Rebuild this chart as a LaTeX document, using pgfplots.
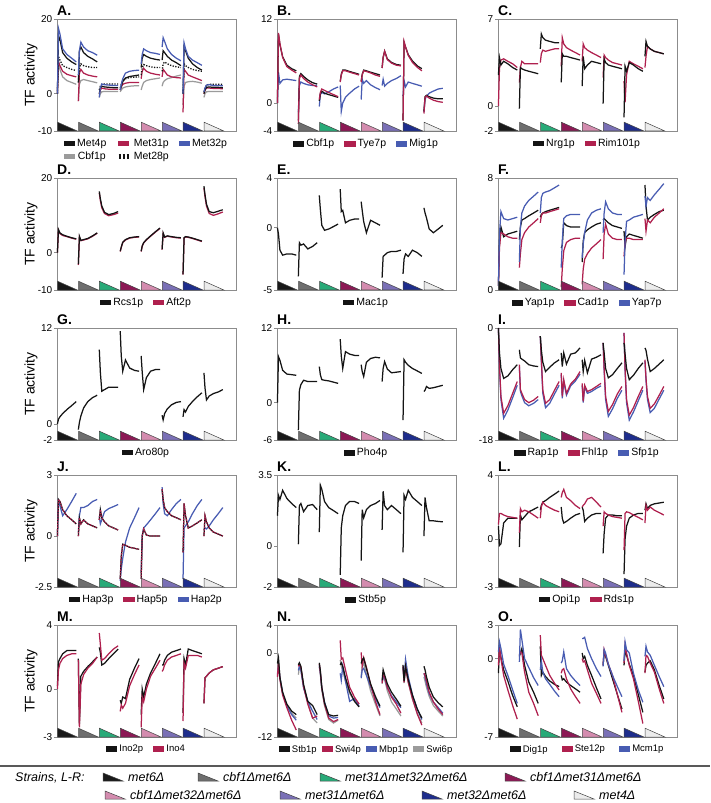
\documentclass[border=0pt]{standalone}
\usepackage{fontspec}
\setmainfont{Liberation Sans}
\usepackage{pgfplots}
\pgfplotsset{compat=1.18}

\definecolor{cblk}{RGB}{20,20,20}
\definecolor{cred}{RGB}{175,32,78}
\definecolor{cblu}{RGB}{72,92,178}
\definecolor{cgry}{RGB}{155,155,155}
\definecolor{axgray}{RGB}{140,140,140}
\definecolor{triedge}{RGB}{70,70,70}
\definecolor{t1}{RGB}{25,25,25}
\definecolor{t2}{RGB}{110,110,110}
\definecolor{t3}{RGB}{40,170,120}
\definecolor{t4}{RGB}{140,25,85}
\definecolor{t5}{RGB}{212,140,175}
\definecolor{t6}{RGB}{122,112,182}
\definecolor{t7}{RGB}{30,45,140}
\definecolor{t8}{RGB}{236,236,236}

\tikzset{
 lblk/.style={color=cblk, line width=1.25pt},
 lred/.style={color=cred, line width=1.25pt},
 lredd/.style={color=cred, line width=1.25pt, dash pattern=on 1.5pt off 1.2pt},
 lblu/.style={color=cblu, line width=1.25pt},
 lgry/.style={color=cgry, line width=1.25pt},
 ldot/.style={color=cblk, line width=1.3pt, dash pattern=on 1.3pt off 1.4pt},
}

\def\tval#1{\ifcase#1 0\or0.05\or0.12\or0.25\or0.45\or0.68\or0.9\fi}

\newcommand\addseries[2]{%
  \foreach \vals [count=\i from 0] in {#2} {%
    \gdef\coords{}%
    \foreach \v [count=\j from 0] in \vals {%
      \edef\tv{\tval{\j}}%
      \pgfmathsetmacro\xx{\i+0.02+\tv}%
      \xdef\coords{\coords(\xx,\v)}%
    }%
    \edef\temp{\noexpand\addplot[#1,forget plot] coordinates {\coords};}%
    \temp
  }%
}

\newcommand\strips{%
  \foreach \c [count=\i from 0] in {t1,t2,t3,t4,t5,t6,t7,t8} {%
    \pgfmathsetmacro\xa{(\i+0.03)/8.55}%
    \pgfmathsetmacro\xb{(\i+0.97)/8.55}%
    \edef\temp{\noexpand\filldraw[fill=\c, draw=triedge, line width=0.5pt] (axis description cs:\xa,0) -- (axis description cs:\xa,0.078) -- (axis description cs:\xb,0) -- cycle;}%
    \temp
  }%
}

\newcommand\plabel[1]{\node[anchor=south west, inner sep=0pt, yshift=3pt, font=\bfseries\fontsize{14}{14}\selectfont] at (rel axis cs:0,1) {#1};}

\pgfplotsset{
 panel/.style={
  scale only axis, width=179pt, height=112pt,
  xmin=0, xmax=8.55, xtick=\empty,
  axis line style={draw=axgray, line width=0.8pt},
  ytick pos=left, tick align=outside,
  major tick length=3pt,
  every tick/.style={draw=axgray, line width=0.7pt},
  yticklabel style={font=\fontsize{10}{10}\selectfont, inner sep=1.5pt},
  every axis y label/.style={at={(axis description cs:-0.145,0.5)}, rotate=90, anchor=center, font=\fontsize{14}{14}\selectfont},
  legend image code/.code={\fill[##1] (0pt,-2.2pt) rectangle (10pt,2.2pt);},
  legend style={draw=none, fill=none, at={(0.5,-0.035)}, anchor=north,
    font=\fontsize{10.5}{12}\selectfont,
    /tikz/every even column/.append style={column sep=8pt}},
  legend columns=-1,
  clip=false,
  anchor=north west,
 },
 small legend/.style={legend style={font=\fontsize{9.5}{11}\selectfont}},
}

\begin{document}
\begin{tikzpicture}
\useasboundingbox (0pt,0pt) rectangle (710pt,-803pt);

% ---------------- A
\begin{axis}[panel, at={(57pt,-19pt)}, ymin=-10, ymax=20, ytick={-10,0,20}, yticklabels={-10,0,20}, ylabel={TF activity}, legend columns=3]
\addlegendimage{lblk}\addlegendentry{Met4p}
\addlegendimage{lred}\addlegendentry{Met31p}
\addlegendimage{lblu}\addlegendentry{Met32p}
\addlegendimage{lgry}\addlegendentry{Cbf1p}
\addlegendimage{legend image code/.code={\draw[cblk, line width=4.4pt, dash pattern=on 2.6pt off 1.4pt] (0pt,0pt) -- (11pt,0pt);}}\addlegendentry{Met28p}
\addseries{lgry}{{0,9,6.5,4.5,3.5,3,2.5},{-2,2.5,3.5,3.8,3.5,3.2,2.9},{-1,0,0.5,0.6,0.6,0.6,0.6},{0.5,1,1.5,1.8,2,2.1,2.1},{1,2,3,3.5,3.8,4,4.2},{2,3,3.5,4,4.3,4.7,5},{-3,2,3,3.2,3.3,3.1,2.8},{-1,0,0.5,0.6,0.6,0.6,0.6}}
\addseries{lred}{{0,8.5,7.5,6,5.2,4.8,4.5},{-2,5.5,6.5,5.5,5,4.7,4.5},{0,1,1.5,1.3,1.2,1.2,1.2},{1,1.8,2.5,2.8,3,3,3},{4,6,6.8,6,5.5,5.2,5},{4.5,6.5,6,5,4.5,4.3,4.2},{-5,6.5,6,5,4.5,4,3.5},{0,1,1.5,1.5,1.4,1.4,1.3}}
\addseries{ldot}{{0,10,9,7.5,7,6.5,6.2},{3,7,8,7.5,7.2,7,7},{1,2,2.5,2.6,2.6,2.6,2.6},{1.5,2.5,3.5,4,4.3,4.4,4.5},{5,7,7.8,7.5,7.2,7,7},{6,8,8.5,8,7.5,7.2,7},{0,8,7.5,7,6.5,6.2,6},{0.5,1.5,2.3,2.5,2.5,2.5,2.5}}
\addseries{lblk}{{0,15.5,14.5,11,9.5,8.5,7.8},{3,11.5,12.5,11,10,9.3,8.5},{0,1.5,2,1.8,1.7,1.6,1.6},{1,2,3.2,4.2,4.6,4.8,5},{7,9.5,10.5,10,9.5,9.2,9},{9,11.5,11,10,9,8.3,7.5},{0,12.5,11.5,9.5,8,7,6.3},{0,1,1.7,1.8,1.7,1.7,1.6}}
\addseries{lblu}{{0,17.5,16,12,10.5,9.5,8.5},{5,11.5,13.8,12.5,11.5,11,10.3},{-1,1.5,2.6,2.4,2.3,2.2,2.2},{1,2.5,4,5.5,6,6.2,6.3},{8,10.5,12,11.5,11,10.8,10.5},{12.5,15,14,12,10.5,9.5,8.8},{0,13.6,12,10,9,8.3,7.6},{0.5,1.5,2.3,2.4,2.2,2.2,2.1}}
\strips
\plabel{A.}
\end{axis}

% ---------------- B
\begin{axis}[panel, at={(277pt,-19pt)}, ymin=-4, ymax=12, ytick={-4,0,12}, yticklabels={-4,0,12}]
\addlegendimage{lblk}\addlegendentry{Cbf1p}
\addlegendimage{lred}\addlegendentry{Tye7p}
\addlegendimage{lblu}\addlegendentry{Mig1p}
\addseries{lblu}{{0,4.4,2.8,3.3,3.4,3.3,3.2},{-1.3,2.5,3,2.8,2.6,2.5,2.5},{-0.5,1.2,1.5,1.3,1.6,2,2.3},{2.5,-1.2,0,0.8,1.4,2,2.4},{0.5,3.4,2.8,3.2,2.6,2.2,1.9},{2.5,3.4,2.4,2.8,3.2,3.5,3.9},{1,3.2,2.3,3,2.8,2.6,2.4},{-1.3,0.5,1,1.4,1.7,2,2.1}}
\addseries{lblk}{{0,9.8,8.3,6.6,5.4,4.9,4.6},{-2.5,3.8,4.2,3.8,3.3,2.9,2.7},{0.3,1.3,1.7,1.4,1.2,1.0,0.8},{3.1,4.1,4.7,4.7,4.5,4.3,4.1},{3.1,4.1,4.7,4.6,4.4,4.2,4.0},{5,6.5,7.4,6.3,5.8,5.5,5.4},{-2.5,8.6,8,6.9,6,5.3,4.9},{-1.2,0.9,1.1,0.9,0.7,0.6,0.6}}
\addseries{lred}{{0,10,8.5,6.5,5.2,4.7,4.3},{-3,3.5,4,3.5,3,2.6,2.3},{0.5,1.5,2,1.8,1.5,1.2,0.9},{3,4,4.6,4.6,4.4,4.2,4.0},{3,4,4.6,4.5,4.3,4,3.8},{5,6.5,7.4,6.2,5.7,5.4,5.3},{-2.5,8.8,8,6.8,5.8,5.1,4.6},{-1.5,0.8,1,0.7,0.4,0.2,0.1}}
\strips
\plabel{B.}
\end{axis}

% ---------------- C
\begin{axis}[panel, at={(498pt,-19pt)}, ymin=-2, ymax=7, ytick={-2,0,7}, yticklabels={-2,0,7}]
\addlegendimage{lblk}\addlegendentry{Nrg1p}
\addlegendimage{lred}\addlegendentry{Rim101p}
\addseries{lred}{{0,3,3.7,3.8,3.6,3.4,3.1},{1.9,3.1,3.6,3.4,3.4,3.4,3.4},{3.5,4.2,4.5,4.4,4.5,4.6,4.6},{3.2,5.5,5.0,4.7,4.5,4.3,4.1},{3.6,5,4.7,4.5,4.3,4.1,3.9},{2.3,4.1,3.9,3.7,3.5,3.4,3.3},{2.0,0.3,2.5,3.6,3.4,3.2,3.0},{3.1,4.0,4.8,4.6,4.4,4.3,4.2}}
\addseries{lblk}{{2.5,3.9,3.3,3.6,3.4,3.1,2.9},{-0.2,3.1,3,2.9,2.8,2.7,2.6},{4.6,5.8,5.5,5.3,5.2,5.1,5.1},{1.9,4.2,4.0,4.0,3.9,3.8,3.7},{1.6,4.0,3.0,3.3,3.6,3.5,3.4},{0.2,3.8,3.5,3.3,3.2,3.1,3.0},{-0.9,3.2,2.8,3.5,3.3,3.0,2.8},{4,5.2,4.8,4.6,4.4,4.3,4.2}}
\strips
\plabel{C.}
\end{axis}

% ---------------- D
\begin{axis}[panel, at={(57pt,-178pt)}, ymin=-10, ymax=20, ytick={-10,0,20}, yticklabels={-10,0,20}, ylabel={TF activity}]
\addlegendimage{lblk}\addlegendentry{Rcs1p}
\addlegendimage{lred}\addlegendentry{Aft2p}
\addseries{lred}{{0,6.0,5.1,4.6,4.3,3.9,3.6},{-3.3,4.2,3.2,3.4,3.7,4.4,5.2},{16.0,14.0,12.0,10.5,9.9,10.2,10.6},{0.3,1.4,2.7,3.4,3.9,4.1,4.2},{0.3,1.7,2.6,3.4,4.4,5.5,6.5},{0.8,5.1,4.1,4.4,4.2,4.0,3.9},{-5.9,3.9,4.2,4.1,3.8,3.4,3.0},{17.3,15.0,12.5,10.5,10.0,10.4,10.9}}
\addseries{lblk}{{0,6.2,5.3,4.8,4.4,4.0,3.7},{-3.1,4.4,3.3,3.5,3.8,4.5,5.3},{16.4,14.5,12.5,10.8,10.2,10.5,11.0},{0.4,1.5,2.8,3.5,4.0,4.2,4.3},{0.4,1.8,2.7,3.5,4.5,5.6,6.6},{0.9,5.3,4.2,4.5,4.3,4.1,4.0},{-5.8,4.0,4.3,4.2,3.9,3.5,3.1},{17.8,15.5,13,11,10.7,11.1,11.5}}
\strips
\plabel{D.}
\end{axis}

% ---------------- E
\begin{axis}[panel, at={(277pt,-178pt)}, ymin=-5, ymax=4, ytick={-5,0,4}, yticklabels={-5,0,4}]
\addlegendimage{lblk}\addlegendentry{Mac1p}
\addseries{lblk}{{0,-0.5,-1.8,-2.2,-2.1,-2.1,-2.2},{-3.9,-1.2,-1.4,-1.3,-1.7,-1.5,-1.2},{2.6,1.5,0.2,-0.2,-0.1,0.1,0.3},{3.1,1.3,1.4,0.4,0.6,0.7,0.7},{2.1,1.4,0.5,-0.4,0.6,0.4,0.2},{-4.0,-2.3,-2.2,-2.0,-1.9,-1.9,-1.8},{-3.7,-2.5,-2.1,-2.3,-1.8,-2.0,-2.3},{1.6,1.2,0.8,-0.1,-0.4,-0.1,0.2}}
\strips
\plabel{E.}
\end{axis}

% ---------------- F
\begin{axis}[panel, at={(498pt,-178pt)}, ymin=0, ymax=8, ytick={0,8}, yticklabels={0,8}]
\addlegendimage{lblk}\addlegendentry{Yap1p}
\addlegendimage{lred}\addlegendentry{Cad1p}
\addlegendimage{lblu}\addlegendentry{Yap7p}
\addseries{lblk}{{0.3,3.5,4.5,3.8,4.0,4.1,4.2},{3.6,4.5,5.0,5.1,5.3,5.5,5.7},{5.2,5.4,5.5,5.6,5.7,5.8,5.9},{3.0,3.2,4.8,4.6,4.5,4.5,4.5},{2.0,3.5,4.1,4.3,4.5,4.7,4.8},{5.0,5.1,5.0,4.8,4.6,4.5,4.4},{4.2,3.1,3.8,4.0,3.9,3.8,3.7},{7.5,6.0,5.0,5.2,5.4,5.6,5.7}}
\addseries{lred}{{0.3,3.0,4.1,4.0,3.8,3.7,3.7},{1.6,2.6,3.6,4.1,4.5,4.8,5.1},{4.8,5.3,5.5,5.5,5.6,5.7,5.8},{0.2,1.5,2.8,3.4,3.6,3.7,3.7},{0.4,1.5,2.2,2.6,3.0,3.3,3.6},{2.2,4.0,4.7,4.0,3.7,3.6,3.6},{2.4,3.4,3.7,3.7,3.6,3.6,3.6},{5.1,4.2,5.0,4.8,5.2,5.5,5.8}}
\addseries{lblu}{{0.3,4.0,5.6,5.1,5.0,5.1,5.2},{2.0,4.5,5.5,6.0,6.4,6.7,7.0},{5.5,6.6,6.9,7.0,7.1,7.3,7.5},{1.6,3.5,5.1,5.3,5.4,5.4,5.4},{2.3,3.3,4.1,5.0,5.5,5.7,5.8},{4.1,5.5,6.3,5.8,5.5,5.4,5.4},{1.1,3.5,4.9,5.0,5.2,5.3,5.4},{6.7,6.0,6.6,6.4,6.8,7.2,7.6}}
\strips
\plabel{F.}
\end{axis}

% ---------------- G
\begin{axis}[panel, at={(57pt,-328pt)}, ymin=-2, ymax=12, ytick={-2,0,12}, yticklabels={-2,0,12}, ylabel={TF activity}]
\addlegendimage{lblk}\addlegendentry{Aro80p}
\addseries{lblk}{{0,0.6,0.9,1.3,1.8,2.3,2.8},{-0.7,0.2,1.0,2.0,2.8,3.3,3.6},{9.3,6.5,4.1,4.3,4.6,4.6,4.6},{11.6,8.5,6.6,8.0,7.0,6.7,6.6},{8.5,6.5,4.3,5.8,6.6,6.8,6.8},{1.1,0.5,1.3,1.9,2.4,2.7,2.8},{0.9,1.8,1.5,2.2,2.8,3.4,3.9},{6.4,4.5,3.0,3.5,3.8,4.0,4.3}}
\strips
\plabel{G.}
\end{axis}

% ---------------- H
\begin{axis}[panel, at={(277pt,-328pt)}, ymin=-6, ymax=12, ytick={-6,0,12}, yticklabels={-6,0,12}]
\addlegendimage{lblk}\addlegendentry{Pho4p}
\addseries{lblk}{{0,7.4,6.8,5.2,4.6,4.5,4.4},{-4.4,2.0,2.9,3.6,3.4,3.4,3.4},{5.8,4.5,3.7,3.6,3.5,3.3,3.1},{10.2,7.5,5.5,8.2,7.8,7.6,7.6},{6.1,5.0,4.2,6.5,7.1,7.3,7.2},{3.4,5.5,6.6,5.4,4.8,4.9,5.0},{-2.8,6.9,6.5,6.0,5.5,5.1,4.7},{1.8,2.0,2.6,2.3,2.4,2.6,2.8}}
\strips
\plabel{H.}
\end{axis}

% ---------------- I
\begin{axis}[panel, at={(498pt,-328pt)}, ymin=-18, ymax=0, ytick={-18,0}, yticklabels={-18,0}]
\addlegendimage{lblk}\addlegendentry{Rap1p}
\addlegendimage{lred}\addlegendentry{Fhl1p}
\addlegendimage{lblu}\addlegendentry{Sfp1p}
\addseries{lblu}{{0,-6.3,-11.5,-14.5,-13.2,-11.2,-9.2},{-6.2,-10.2,-10.9,-12.0,-12.5,-12.1,-11.5},{-1.3,-5.3,-10.5,-12.8,-12.1,-10.6,-9.2},{-7.5,-11.3,-8.6,-10.8,-9.3,-8.5,-7.4},{-9.2,-12.0,-9.5,-10.5,-10.2,-9.7,-9.3},{-2.4,-6.8,-11.5,-14.2,-13.0,-11.3,-10.0},{-0.8,-6.8,-12.0,-14.8,-13.5,-11.7,-10.0},{-5.3,-8.4,-11.5,-13.6,-12.9,-11.4,-10.0}}
\addseries{lred}{{0,-6,-11,-13.7,-12.5,-10.5,-8.6},{-5.9,-9.9,-10.5,-11.5,-12.0,-11.6,-11.0},{-1.3,-5,-10,-12.1,-11.5,-10,-8.6},{-7.2,-11.0,-8.3,-10.5,-9.0,-8.2,-7.0},{-8.9,-11.8,-9.2,-10.2,-9.9,-9.4,-8.9},{-2.4,-6.5,-11,-13.4,-12.3,-10.6,-9.4},{-0.8,-6.5,-11.5,-14.0,-12.8,-11,-9.4},{-5.1,-8.1,-11,-12.9,-12.2,-10.8,-9.4}}
\addseries{lblk}{{0,-4.0,-6.5,-8.1,-7.7,-6.7,-5.9},{-3.5,-4.8,-5.0,-5.3,-5.9,-6.1,-6.2},{-1.3,-3.5,-5.5,-7.0,-6.3,-5.6,-5.1},{-4.0,-6.2,-4.0,-5.8,-4.2,-4.0,-3.2},{-5.1,-7.0,-5.2,-7.2,-5.0,-4.7,-4.3},{-2.4,-4.0,-6.5,-8.0,-7.5,-6.5,-5.6},{-2.4,-4.2,-6.5,-8.3,-7.6,-6.5,-5.6},{-3.2,-3.6,-5.0,-7.0,-6.5,-5.8,-5.1}}
\strips
\plabel{I.}
\end{axis}

% ---------------- J
\begin{axis}[panel, at={(57pt,-475pt)}, ymin=-2.5, ymax=3, ytick={-2.5,0,3}, yticklabels={-2.5,0,3}, ylabel={TF activity}]
\addlegendimage{lblk}\addlegendentry{Hap3p}
\addlegendimage{lred}\addlegendentry{Hap5p}
\addlegendimage{lblu}\addlegendentry{Hap2p}
\addseries{lblu}{{0,1.7,1.5,1.0,1.3,1.7,2.1},{0.2,1.0,1.4,1.4,1.5,1.7,1.8},{1.0,0.6,0.8,1.2,1.35,1.45,1.55},{-2.2,-1.6,-1.1,-0.3,0.4,0.9,1.4},{-1.8,0.0,0.4,0.55,0.8,1.1,1.4},{2.4,1.6,1.1,1.0,1.3,1.6,1.8},{-2.1,0.4,0.5,0.7,1.1,1.5,1.8},{0.3,0.4,0.35,0.5,0.8,1.1,1.4}}
\addseries{lblk}{{0,1.8,1.7,1.3,1.0,0.8,0.6},{0,0.9,0.6,0.8,0.6,0.5,0.4},{0.8,1.3,0.9,0.7,0.5,0.4,0.3},{-2.1,-1.0,-0.4,-0.45,-0.55,-0.6,-0.65},{-2.1,0.0,0.35,0.05,0.0,0.0,0.0},{2.3,1.8,1.4,1.2,1.0,0.9,0.8},{-0.8,1.6,1.0,0.4,0.5,0.65,0.8},{0,1.0,0.7,0.4,0.2,0.1,0.0}}
\addseries{lredd}{{0,1.8,1.7,1.3,1.0,0.8,0.6},{0,0.9,0.6,0.8,0.6,0.5,0.4},{0.8,1.3,0.9,0.7,0.5,0.4,0.3},{-2.1,-1.0,-0.4,-0.45,-0.55,-0.6,-0.65},{-2.1,0.0,0.35,0.05,0.0,0.0,0.0},{2.3,1.8,1.4,1.2,1.0,0.9,0.8},{-0.8,1.6,1.0,0.4,0.5,0.65,0.8},{0,1.0,0.7,0.4,0.2,0.1,0.0}}
\strips
\plabel{J.}
\end{axis}

% ---------------- K
\begin{axis}[panel, at={(277pt,-475pt)}, ymin=-2, ymax=3.5, ytick={-2,0,3.5}, yticklabels={-2,0,3.5}]
\addlegendimage{lblk}\addlegendentry{Stb5p}
\addseries{lblk}{{1.5,2.5,2.3,2.75,2.35,2.1,1.9},{0.1,2.0,2.1,1.7,2.0,2.05,1.8},{0.7,3.0,2.8,2.2,1.9,1.75,1.6},{-1.4,0.9,1.5,2.0,2.2,2.2,2.1},{-0.7,1.8,1.4,1.8,2.0,2.1,2.25},{0.8,2.7,2.0,1.8,2.0,1.8,1.6},{-0.3,2.5,2.3,2.75,2.4,2.2,2.0},{0.5,2.4,1.9,1.25,1.25,1.22,1.2}}
\strips
\plabel{K.}
\end{axis}

% ---------------- L
\begin{axis}[panel, at={(498pt,-475pt)}, ymin=-3, ymax=4, ytick={-3,0,4}, yticklabels={-3,0,4}]
\addlegendimage{lblk}\addlegendentry{Opi1p}
\addlegendimage{lred}\addlegendentry{Rds1p}
\addseries{lblk}{{0.8,-0.4,-0.3,1.0,1.3,1.3,1.3},{-0.5,1.5,1.2,1.4,1.7,1.85,2.0},{1.8,2.1,2.3,2.4,2.6,2.8,3.0},{2.0,1.3,1.0,1.1,1.3,1.5,1.6},{2.0,1.8,1.1,1.3,1.5,1.6,1.6},{-0.9,0.35,1.3,1.5,1.5,1.45,1.45},{-2.2,0.0,0.8,1.3,1.5,1.6,1.6},{1.8,2.2,1.9,2.1,2.2,2.25,2.3}}
\addseries{lred}{{0.9,1.6,1.6,1.5,1.4,1.35,1.3},{0.4,1.9,1.7,1.8,1.7,1.5,1.3},{1.3,2.0,2.3,2.1,1.95,1.8,1.7},{2.6,2.9,3.1,2.6,2.4,2.1,1.9},{2.0,2.1,2.2,2.5,2.6,2.3,2.0},{0.8,1.7,1.6,1.5,1.4,1.35,1.3},{-0.7,1.6,1.7,1.65,1.5,1.35,1.2},{1.0,2.1,1.8,2.0,1.8,1.65,1.5}}
\strips
\plabel{L.}
\end{axis}

% ---------------- M
\begin{axis}[panel, small legend, at={(57pt,-625pt)}, ymin=-3, ymax=4, ytick={-3,0,4}, yticklabels={-3,0,4}, ylabel={TF activity}]
\addlegendimage{lblk}\addlegendentry{Ino2p}
\addlegendimage{lred}\addlegendentry{Ino4}
\addseries{lblk}{{0.2,1.7,1.9,2.2,2.4,2.4,2.4},{1.9,-2.2,0.8,1.1,1.4,1.7,2.0},{2.6,2.3,1.5,1.6,1.9,2.2,2.5},{-0.7,-0.9,-0.5,-0.6,0.6,1.3,1.9},{-1.6,0.0,-0.5,0.3,1.0,1.6,2.2},{1.5,1.5,1.8,2.1,2.3,2.4,2.5},{-1.5,1.9,1.5,2.5,2.4,2.3,2.2},{-0.9,0.7,0.8,1.0,1.2,1.3,1.4}}
\addseries{lred}{{0,1.2,1.6,1.9,2.1,2.2,2.2},{1.8,-2.4,0.3,0.9,1.3,1.6,2.0},{3.5,2.8,1.8,1.9,2.2,2.5,2.7},{-1.4,-1.0,-1.2,-0.9,0.2,0.9,1.5},{-2.4,-0.5,-0.8,0.0,0.8,1.3,1.8},{1.1,1.2,1.5,1.8,2.0,2.1,2.2},{-2.0,1.6,1.3,2.1,2.1,2.1,2.0},{-0.9,0.7,0.8,1.0,1.2,1.3,1.4}}
\strips
\plabel{M.}
\end{axis}

% ---------------- N
\begin{axis}[panel, small legend, at={(277pt,-625pt)}, ymin=-12, ymax=4, ytick={-12,0,4}, yticklabels={-12,0,4}, legend style={/tikz/every even column/.append style={column sep=3pt}}]
\addlegendimage{lblk}\addlegendentry{Stb1p}
\addlegendimage{lred}\addlegendentry{Swi4p}
\addlegendimage{lblu}\addlegendentry{Mbp1p}
\addlegendimage{lgry}\addlegendentry{Swi6p}
\addseries{lgry}{{-0.4,-1.0,-3.5,-5.8,-7.5,-8.6,-9.3},{-3.1,-2.0,-2.2,-4.8,-7.0,-9.3,-10.0},{-2.0,-3.0,-5.3,-7.5,-9.5,-10.0,-9.6},{-1.0,-1.9,-2.5,-4.0,-5.8,-6.8,-7.3},{-3.4,-1.9,-1.5,-3.0,-5.4,-7.3,-9.0},{-4.4,-3.4,-3.8,-5.4,-7.0,-8.0,-9.0},{-2.1,-4.3,-2.3,-4.2,-6.6,-8.6,-10.0},{-3.4,-4.0,-4.9,-6.2,-7.5,-8.3,-9.0}}
\addseries{lblu}{{-3.0,-2.0,-3.5,-5.8,-7.6,-8.8,-9.6},{-2.5,-1.9,-2.5,-5.0,-6.9,-8.3,-9.5},{-1.8,-2.8,-5.0,-7.0,-9.0,-9.3,-9.2},{-2.9,-3.9,-1.9,-4.0,-6.9,-6.5,-7.6},{-3.6,-2.4,-2.2,-3.2,-4.8,-6.5,-7.8},{-4.1,-3.4,-3.6,-4.9,-6.1,-7.0,-7.8},{-2.0,-3.8,-0.9,-3.4,-6.0,-8.0,-9.5},{-2.9,-3.4,-4.4,-5.8,-7.0,-7.8,-8.6}}
\addseries{lred}{{-3.4,-1.5,-3.8,-6.0,-7.8,-9.6,-11.0},{-1.9,-1.6,-2.0,-4.8,-7.3,-9.3,-9.0},{-1.6,-2.7,-5.0,-7.3,-9.3,-9.8,-9.5},{1.8,-0.9,-0.7,-2.4,-4.9,-6.3,-7.3},{0.1,-1.9,-0.7,-2.0,-4.5,-6.9,-8.8},{-4.3,-3.1,-3.4,-4.9,-6.3,-7.3,-8.6},{-1.9,-4.2,-2.0,-4.2,-6.5,-8.7,-10.3},{-2.9,-3.2,-4.0,-5.6,-7.0,-8.0,-8.8}}
\addseries{lblk}{{-1.5,-0.7,-3.5,-5.6,-7.3,-8.3,-8.8},{-1.7,-1.4,-1.9,-4.5,-6.9,-7.5,-8.8},{-1.4,-2.5,-4.9,-7.1,-8.8,-9.0,-8.9},{-1.7,-1.4,-1.9,-3.5,-5.5,-6.9,-7.7},{-1.5,-1.0,-0.7,-2.2,-4.4,-6.2,-7.6},{-3.9,-2.4,-3.1,-4.4,-5.6,-6.6,-7.6},{-1.7,-4.0,-1.9,-3.8,-6.0,-8.0,-9.3},{-1.9,-2.4,-3.4,-4.9,-6.3,-7.1,-7.7}}
\strips
\plabel{N.}
\end{axis}

% ---------------- O
\begin{axis}[panel, small legend, at={(498pt,-625pt)}, ymin=-7, ymax=3, ytick={-7,0,3}, yticklabels={-7,0,3}, legend style={/tikz/every even column/.append style={column sep=12pt}}]
\addlegendimage{lblk}\addlegendentry{Dig1p}
\addlegendimage{lred}\addlegendentry{Ste12p}
\addlegendimage{lblu}\addlegendentry{Mcm1p}
\addseries{lblk}{{-1.3,0.9,0.1,-1.0,-2.0,-3.3,-4.3},{0.2,0.5,0.9,-0.6,-2.1,-3.0,-4.0},{1.1,-1.5,-1.2,-1.6,-2.0,-2.3,-2.5},{-1.5,-1.9,-1.8,-2.1,-2.4,-2.7,-3.0},{0.5,0.0,0.2,-0.6,-1.5,-2.6,-3.6},{-0.6,0.6,0.2,-0.6,-1.8,-3.2,-4.5},{-0.6,0.8,0.3,-0.5,-1.5,-3.2,-4.8},{-1.2,-0.6,-0.4,-0.2,-1.0,-2.4,-3.6}}
\addseries{lred}{{-0.6,1.0,0.0,-1.5,-2.8,-4.2,-5.4},{0.3,0.6,0.5,-1.2,-3.0,-4.0,-5.1},{2.1,0.3,0.0,-0.6,-1.5,-2.2,-2.8},{-1.3,-1.0,-0.9,-1.8,-2.7,-3.4,-4.0},{0.0,-0.3,-0.2,-1.0,-2.2,-3.1,-4.0},{-0.6,0.8,0.3,-0.5,-1.5,-3.2,-4.8},{-0.4,1.2,0.5,-0.6,-1.8,-3.8,-5.8},{-1.3,0.3,0.2,-0.4,-1.2,-2.7,-4.0}}
\addseries{lblu}{{0.6,1.5,0.9,-0.5,-1.5,-2.8,-4.0},{-0.3,2.6,1.7,0.0,-0.8,-1.7,-2.4},{-1.0,-0.2,-1.2,-1.8,-2.3,-2.9,-3.4},{-0.4,-0.2,0.6,-0.9,-1.5,-2.0,-2.4},{1.8,1.8,1.9,0.9,0.0,-0.9,-1.6},{-0.7,0.8,0.5,-0.5,-1.5,-2.5,-3.4},{-0.2,1.5,0.8,0.5,-1.3,-2.8,-3.9},{0.2,1.1,0.6,0.3,-0.6,-1.6,-2.5}}
\strips
\plabel{O.}
\end{axis}

% ---------------- strains legend
\draw[line width=1.6pt, color=black!65] (0pt,-766pt) -- (710pt,-766pt);
\begin{scope}[every node/.style={anchor=base west, inner sep=0pt, font=\fontsize{12.5}{12.5}\selectfont\itshape}]
\node at (15pt,-781pt) {Strains, L-R:};
\foreach \x/\y/\c/\t in {103/-781/t1/met6Δ, 198/-781/t2/cbf1Δmet6Δ, 320/-781/t3/met31Δmet32Δmet6Δ, 505/-781/t4/cbf1Δmet31Δmet6Δ, 105/-799/t5/cbf1Δmet32Δmet6Δ, 280/-799/t6/met31Δmet6Δ, 422/-799/t7/met32Δmet6Δ, 574/-799/t8/met4Δ}{
  \filldraw[fill=\c, draw=triedge, line width=0.5pt] (\x pt,\y pt) -- (\x pt,\y pt+8pt) -- (\x pt+20pt,\y pt) -- cycle;
  \node at (\x pt+25pt,\y pt) {\t};
}
\end{scope}
\end{tikzpicture}
\end{document}
